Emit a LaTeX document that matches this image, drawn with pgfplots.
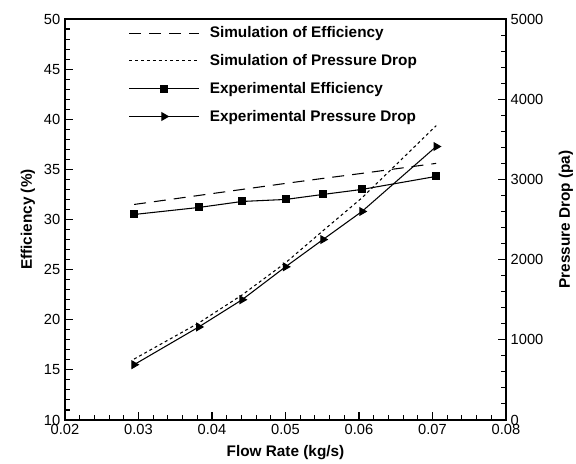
\documentclass[border=0pt]{standalone}
\usepackage{fontspec}
\setmainfont{Liberation Sans}
\usepackage{pgfplots}
\pgfplotsset{compat=1.18}

% shared look of both axes (1px = 0.75pt)
\pgfplotsset{
  common/.style={
    width=330.75pt, height=300.75pt, scale only axis,
    xmin=0.02, xmax=0.08,
    tick align=inside,
    major tick length=6pt, minor tick length=3.5pt,
    every tick/.style={black, line width=0.8pt},
    axis line style={line width=1pt},
    tick label style={font=\fontsize{11}{13}\selectfont},
    label style={font=\fontsize{11.5}{13}\selectfont\bfseries},
    /pgf/number format/assume math mode=true,
  },
  legend image code/.code={
    \draw[mark repeat=2,mark phase=2,#1] plot coordinates {(0pt,0pt) (26pt,0pt) (52pt,0pt)};
  },
}

\begin{document}
\begin{tikzpicture}
\begin{axis}[common, name=ax,
    ymin=10, ymax=50, ytick={10,15,20,25,30,35,40,45,50}, minor y tick num=4,
    xtick={0.02,0.03,0.04,0.05,0.06,0.07,0.08}, minor x tick num=4,
    scaled x ticks=false,
    xticklabel style={/pgf/number format/.cd, fixed, fixed zerofill, precision=2},
    xtick pos=left, ytick pos=left,
    xlabel={Flow Rate (kg/s)}, ylabel={Efficiency (\%)},
    xlabel style={at={(axis description cs:0.5,-0.082)}, anchor=center},
    ylabel style={at={(axis description cs:-0.084,0.5)}, anchor=center},
]
% simulation of efficiency
\addplot[black, line width=0.8pt, dash pattern=on 9pt off 6pt] coordinates {
  (0.0294,31.5) (0.0382,32.4) (0.0441,33.0) (0.0500,33.6) (0.0551,34.1) (0.0604,34.6) (0.0705,35.6)
};
% experimental efficiency
\addplot[black, line width=0.8pt, mark=square*, mark size=2.6pt] coordinates {
  (0.0294,30.5) (0.0382,31.2) (0.0441,31.8) (0.0500,32.0) (0.0551,32.5) (0.0604,33.0) (0.0705,34.3)
};
\end{axis}

\begin{axis}[common,
    ymin=0, ymax=5000, ytick={0,1000,2000,3000,4000,5000}, minor y tick num=4,
    axis y line*=right, axis x line=none,
    scaled y ticks=false,
    yticklabel style={/pgf/number format/1000 sep={}},
    ylabel={Pressure Drop (pa)},
    ylabel style={at={(axis description cs:1.136,0.5)}, anchor=center},
    legend style={draw=none, fill=none, at={(axis description cs:0.135,0.995)}, anchor=north west,
      font=\fontsize{11.5}{13}\selectfont\bfseries, row sep=7pt, column sep=6pt},
    legend cell align=left,
]
\addlegendimage{black, line width=0.8pt, dash pattern=on 9pt off 6pt}
\addlegendentry{Simulation of Efficiency}
% simulation of pressure drop
\addplot[black, line width=0.8pt, dash pattern=on 2.2pt off 2.2pt] coordinates {
  (0.0294,760) (0.0382,1210) (0.0441,1560) (0.0500,1960) (0.0551,2360) (0.0604,2770) (0.0705,3670)
};
\addlegendentry{Simulation of Pressure Drop}
\addlegendimage{black, line width=0.8pt, mark=square*, mark size=2.6pt}
\addlegendentry{Experimental Efficiency}
% experimental pressure drop
\addplot[black, line width=0.8pt, mark=triangle*, mark size=3.2pt, mark options={rotate=-90}] coordinates {
  (0.0294,690) (0.0382,1160) (0.0441,1500) (0.0500,1910) (0.0551,2250) (0.0604,2600) (0.0705,3410)
};
\addlegendentry{Experimental Pressure Drop}
\end{axis}

\pgfresetboundingbox
\path ([xshift=-48.75pt, yshift=-32.25pt]ax.south west) rectangle ([xshift=52.5pt, yshift=14.25pt]ax.north east);
\end{tikzpicture}
\end{document}
